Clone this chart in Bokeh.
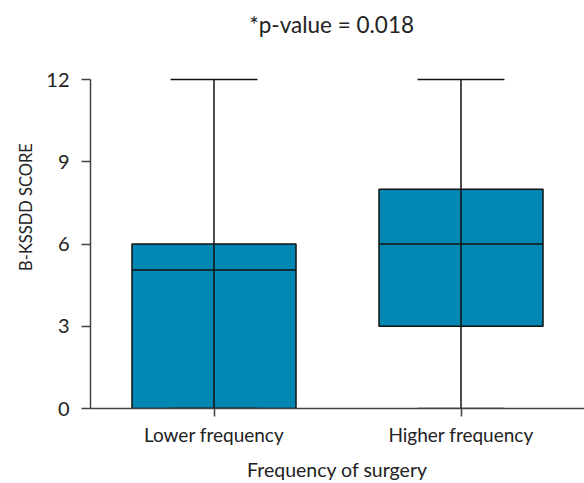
from bokeh.plotting import figure
from bokeh.models import FactorRange, FixedTicker, ColumnDataSource, Label
from bokeh.transform import dodge
from bokeh.embed import file_html
from bokeh.resources import INLINE

categories = ["Lower frequency", "Higher frequency"]
mins = [0, 0]
q1 = [0, 3]
medians = [5.05, 6]
q3 = [6, 8]
maxs = [12, 12]
y_ticks = [0, 3, 6, 9, 12]
title_text = "*p-value = 0.018"

FONT = "Lato"
BOX = "#0287B3"
BOX_W = 0.664
CAP_W = 0.352

src = ColumnDataSource(dict(cat=categories, lo=mins, q1=q1, med=medians, q3=q3, hi=maxs))

p = figure(x_range=FactorRange(factors=categories, range_padding=0),
           y_range=(0, 14.70), width=584, height=483,
           output_backend="svg", toolbar_location=None,
           min_border_left=90, min_border_right=0, min_border_top=5, min_border_bottom=75)

p.add_layout(Label(x=0.976, y=14.0, text=title_text,
                   text_align="center", text_baseline="middle", text_font=FONT,
                   text_font_size="22.5px", text_color="#222222"))

p.vbar(x="cat", bottom="q1", top="q3", width=BOX_W, source=src,
       fill_color=BOX, line_color="#111111", line_width=1.5)
p.segment(x0=dodge("cat", -BOX_W / 2, range=p.x_range), x1=dodge("cat", BOX_W / 2, range=p.x_range),
          y0="med", y1="med", source=src, line_color="#111111", line_width=1.5)
p.segment(x0="cat", x1="cat", y0="lo", y1="hi", source=src, line_color="#111111", line_width=1.5)
p.segment(x0=dodge("cat", -CAP_W / 2, range=p.x_range), x1=dodge("cat", CAP_W / 2, range=p.x_range),
          y0="hi", y1="hi", source=src, line_color="#111111", line_width=1.5)
p.segment(x0=dodge("cat", -CAP_W / 2, range=p.x_range), x1=dodge("cat", CAP_W / 2, range=p.x_range),
          y0="lo", y1="lo", source=src, line_color="#111111", line_width=1.5)

p.xgrid.visible = False
p.ygrid.visible = False
p.outline_line_color = None

p.yaxis.ticker = FixedTicker(ticks=y_ticks)
p.yaxis.bounds = (0, 12)
p.yaxis.axis_label = "B-KSSDD SCORE"
p.xaxis.axis_label = "Frequency of surgery"
for ax in (p.xaxis, p.yaxis):
    ax.axis_line_color = "#444444"
    ax.axis_line_width = 1.5
    ax.major_tick_line_color = "#444444"
    ax.major_tick_line_width = 1.5
    ax.major_tick_in = 0
    ax.minor_tick_line_color = None
    ax.major_label_text_font = FONT
    ax.major_label_text_color = "#222222"
    ax.axis_label_text_font = FONT
    ax.axis_label_text_font_style = "normal"
    ax.axis_label_text_color = "#222222"
p.xaxis.major_label_text_font_size = "19px"
p.yaxis.major_label_text_font_size = "20px"
p.xaxis.axis_label_text_font_size = "19.5px"
p.yaxis.axis_label_text_font_size = "16.5px"
p.yaxis.major_tick_out = 9
p.yaxis.major_label_standoff = 12
p.xaxis.major_tick_out = 8
p.xaxis.major_label_standoff = 6
p.xaxis.axis_label_standoff = 9
p.yaxis.axis_label_standoff = 7

open("out.html", "w").write(file_html(p, INLINE))
